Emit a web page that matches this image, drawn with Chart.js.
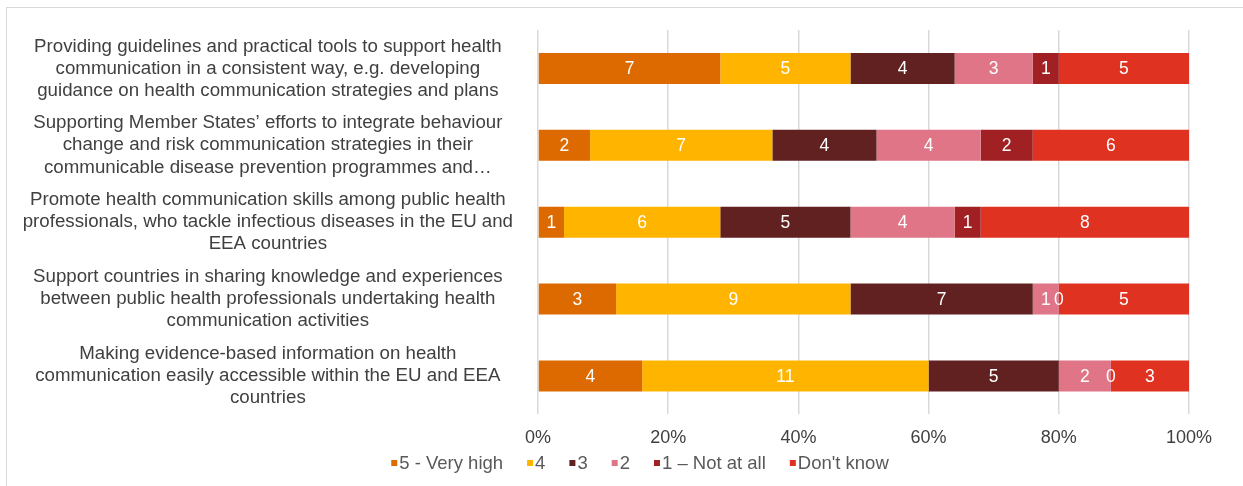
<!DOCTYPE html>
<html>
<head>
<meta charset="utf-8">
<script src="https://cdn.jsdelivr.net/npm/chart.js@4/dist/chart.umd.min.js"></script>
<style>
  html, body { margin: 0; padding: 0; background: #fff; }
  #wrap { position: relative; width: 1243px; height: 486px; overflow: hidden; }
  #frame { position: absolute; left: 6px; top: 7px; width: 1300px; height: 600px; border: 1px solid #d9d9d9; }
  #chart { position: absolute; left: 0; top: 0; }
</style>
</head>
<body>
<div id="wrap">
  <div id="frame"></div>
  <canvas id="chart" width="1243" height="486"></canvas>
</div>
<script>
// 類別（多行標籤）
const categories = [
  ['Providing guidelines and practical tools to support health', 'communication in a consistent way, e.g. developing', 'guidance on health communication strategies and plans'],
  ['Supporting Member States\u2019 efforts to integrate behaviour', 'change and risk communication strategies in their', 'communicable disease prevention programmes and\u2026'],
  ['Promote health communication skills among public health', 'professionals, who tackle infectious diseases in the EU and', 'EEA countries'],
  ['Support countries in sharing knowledge and experiences', 'between public health professionals undertaking health', 'communication activities'],
  ['Making evidence-based information on health', 'communication easily accessible within the EU and EEA', 'countries']
];

// 各評分的回答數
const veryHigh = [7, 2, 1, 3, 4];
const four     = [5, 7, 6, 9, 11];
const three    = [4, 4, 5, 7, 5];
const two      = [3, 4, 4, 1, 2];
const notAtAll = [1, 2, 1, 0, 0];
const dontKnow = [5, 6, 8, 5, 3];

const seriesNames = ['5 - Very high', '4', '3', '2', '1 \u2013 Not at all', "Don't know"];
const xTickLabels = ['0%', '20%', '40%', '60%', '80%', '100%'];

const seriesCounts = [veryHigh, four, three, two, notAtAll, dontKnow];
const colors = ['#DD6A00', '#FFB500', '#612121', '#E07587', '#A12023', '#E03221'];
const FONT = '"Liberation Sans", Arial, sans-serif';

// 每列總數，換算為百分比
const totals = categories.map((_, i) => seriesCounts.reduce((s, arr) => s + arr[i], 0));

// 在每段中央畫出數量
const valueLabels = {
  id: 'valueLabels',
  afterDatasetsDraw(chart) {
    const ctx = chart.ctx;
    ctx.save();
    ctx.fillStyle = '#ffffff';
    ctx.font = '17.5px ' + FONT;
    ctx.textAlign = 'center';
    ctx.textBaseline = 'middle';
    chart.data.datasets.forEach((ds, di) => {
      const meta = chart.getDatasetMeta(di);
      meta.data.forEach((el, i) => {
        const { x, base, y } = el.getProps(['x', 'base', 'y'], true);
        ctx.fillText(String(ds.counts[i]), (x + base) / 2, y + 1);
      });
    });
    ctx.restore();
  }
};

// 底部圖例（小方塊 + 文字，置中）
const bottomLegend = {
  id: 'bottomLegend',
  afterDraw(chart) {
    const ctx = chart.ctx;
    const box = 6, gap = 2, spacing = 24, cy = 463;
    ctx.save();
    ctx.font = '18.5px ' + FONT;
    ctx.textBaseline = 'middle';
    const widths = chart.data.datasets.map(ds => ctx.measureText(ds.label).width);
    const total = widths.reduce((s, w) => s + box + gap + w, 0) + spacing * (widths.length - 1);
    let x = 640 - total / 2;
    chart.data.datasets.forEach((ds, i) => {
      ctx.fillStyle = ds.backgroundColor;
      ctx.fillRect(x, cy - box / 2, box, box);
      x += box + gap;
      ctx.fillStyle = '#595959';
      ctx.fillText(ds.label, x, cy + 1);
      x += widths[i] + spacing;
    });
    ctx.restore();
  }
};

new Chart(document.getElementById('chart'), {
  type: 'bar',
  data: {
    labels: categories,
    datasets: seriesCounts.map((arr, k) => ({
      label: seriesNames[k],
      data: arr.map((v, i) => v / totals[i] * 100),
      counts: arr,
      backgroundColor: colors[k],
      borderWidth: 0,
      barPercentage: 0.403,
      categoryPercentage: 1
    }))
  },
  options: {
    indexAxis: 'y',
    responsive: false,
    animation: false,
    layout: { padding: { top: 30, right: 54, bottom: 24, left: 0 } },
    plugins: {
      tooltip: { enabled: false },
      legend: { display: false }
    },
    scales: {
      x: {
        stacked: true,
        min: 0,
        max: 100,
        ticks: {
          stepSize: 20,
          padding: 13,
          color: '#404040',
          font: { family: FONT, size: 18 },
          callback: (v) => xTickLabels[Math.round(v / 20)]
        },
        grid: { color: '#d9d9d9', lineWidth: 1.5, drawTicks: false },
        border: { display: false }
      },
      y: {
        stacked: true,
        afterFit: (scale) => { scale.width = 538; scale.paddingTop = 0; scale.paddingBottom = 0; },
        ticks: {
          autoSkip: false,
          crossAlign: 'center',
          padding: 17,
          color: '#404040',
          font: { family: FONT, size: 18.7, lineHeight: 1.18 }
        },
        grid: { display: false },
        border: { display: false }
      }
    }
  },
  plugins: [valueLabels, bottomLegend]
});
</script>
</body>
</html>
